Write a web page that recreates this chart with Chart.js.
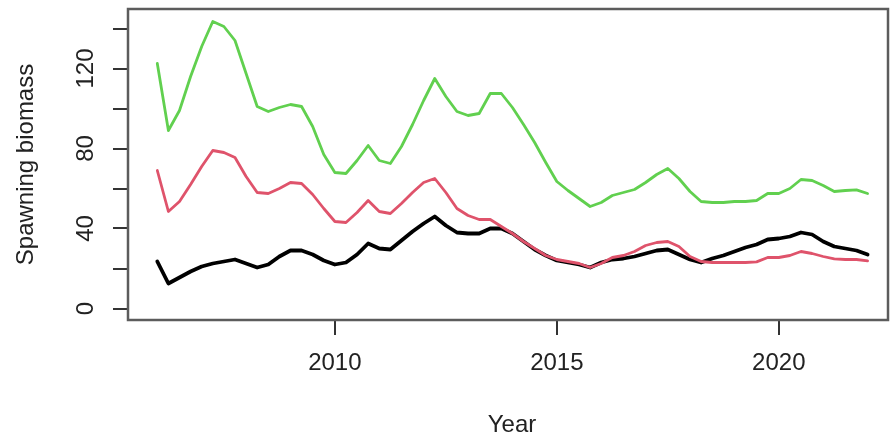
<!DOCTYPE html>
<html>
<head>
<meta charset="utf-8">
<script src="https://cdn.jsdelivr.net/npm/chart.js@4/dist/chart.umd.min.js"></script>
<style>
  html, body { margin: 0; padding: 0; background: #ffffff; }
  #wrap { width: 891px; height: 440px; }
</style>
</head>
<body>
<div id="wrap"><canvas id="chart" width="891" height="440"></canvas></div>
<script>
// Quarterly time steps (years)
const years = [
  2006, 2006.25, 2006.5, 2006.75, 2007, 2007.25, 2007.5, 2007.75,
  2008, 2008.25, 2008.5, 2008.75, 2009, 2009.25, 2009.5, 2009.75,
  2010, 2010.25, 2010.5, 2010.75, 2011, 2011.25, 2011.5, 2011.75,
  2012, 2012.25, 2012.5, 2012.75, 2013, 2013.25, 2013.5, 2013.75,
  2014, 2014.25, 2014.5, 2014.75, 2015, 2015.25, 2015.5, 2015.75,
  2016, 2016.25, 2016.5, 2016.75, 2017, 2017.25, 2017.5, 2017.75,
  2018, 2018.25, 2018.5, 2018.75, 2019, 2019.25, 2019.5, 2019.75,
  2020, 2020.25, 2020.5, 2020.75, 2021, 2021.25, 2021.5, 2021.75,
  2022
];

// Spawning biomass, central estimate (black)
const biomassBlack = [
  23.5, 12.5, 15.5, 18.5, 21, 22.5, 23.5, 24.5,
  22.5, 20.5, 22, 26, 29, 29, 27, 24,
  22, 23, 27, 32.5, 30, 29.5, 34, 38.5,
  42.5, 46, 41.5, 38, 37.5, 37.5, 40, 40,
  37.5, 33.5, 29.5, 26.5, 24, 23, 22, 20.5,
  23, 24.5, 25, 26, 27.5, 29, 29.5, 27,
  24.5, 23, 25, 26.5, 28.5, 30.5, 32, 34.5,
  35, 36, 38, 37, 33.5, 31, 30, 29,
  27
];

// Second series (red)
const biomassRed = [
  69, 48.5, 53.5, 62, 71, 79, 78, 75.5,
  66, 58, 57.5, 60, 63, 62.5, 57, 50,
  43.5, 43, 48, 54, 48.5, 47.5, 52.5, 58,
  63, 65, 58, 50, 46.5, 44.5, 44.5, 41,
  37.5, 33.5, 30, 26.5, 24.5, 23.5, 22.5, 20.5,
  22.5, 25.5, 26.5, 28.5, 31.5, 33, 33.5, 31,
  26, 23.5, 23, 23, 23, 23, 23.3, 25.5,
  25.5, 26.5, 28.5, 27.5, 26, 24.8, 24.5, 24.5,
  23.8
];

// Third series (green)
const biomassGreen = [
  122.5, 89, 99, 116, 131, 143.5, 141, 134,
  117.5, 101, 98.5, 100.5, 102, 101, 91, 77,
  68, 67.5, 74, 81.5, 74, 72.5, 81, 92,
  104, 115, 106, 98.5, 96.5, 97.5, 107.5, 107.5,
  100.5, 92, 83, 73, 63.5, 59, 55, 51,
  53, 56.5, 58, 59.5, 63, 67, 70, 65,
  58.5, 53.5, 53, 53, 53.5, 53.5, 54, 57.5,
  57.5, 60, 64.5, 64, 61.5, 58.5, 59, 59.3,
  57.5
];

// Axis ticks
const xTicks = [2010, 2015, 2020];
const yTicks = [0, 20, 40, 60, 80, 100, 120, 140];
const yLabelTicks = [0, 40, 80, 120];

const xTitle = 'Year';
const yTitle = 'Spawning biomass';

const FONT = '"Liberation Sans", Arial, Helvetica, sans-serif';
const TEXT_COLOR = '#222222';

function toPoints(values) {
  return years.map((yr, i) => ({ x: yr, y: values[i] }));
}

// Frame around the plotting region, rotated y labels and axis titles
const frameAndText = {
  id: 'frameAndText',
  afterDraw(chart) {
    const { ctx, chartArea } = chart;
    const yScale = chart.scales.y;
    ctx.save();
    ctx.strokeStyle = '#5c5c5c';
    ctx.lineWidth = 2.5;
    ctx.strokeRect(chartArea.left, chartArea.top,
                   chartArea.right - chartArea.left, chartArea.bottom - chartArea.top);

    ctx.fillStyle = TEXT_COLOR;
    ctx.font = '24px ' + FONT;
    ctx.textAlign = 'center';
    ctx.textBaseline = 'alphabetic';
    yLabelTicks.forEach(v => {
      const py = yScale.getPixelForValue(v);
      ctx.save();
      ctx.translate(93, py);
      ctx.rotate(-Math.PI / 2);
      ctx.fillText(String(v), 0, 0);
      ctx.restore();
    });

    ctx.save();
    ctx.translate(33, (chartArea.top + chartArea.bottom) / 2);
    ctx.rotate(-Math.PI / 2);
    ctx.fillText(yTitle, 0, 0);
    ctx.restore();

    ctx.fillText(xTitle, 512, 432);
    ctx.restore();
  }
};

new Chart(document.getElementById('chart'), {
  type: 'line',
  data: {
    datasets: [
      { label: 'green', data: toPoints(biomassGreen), borderColor: '#61D04F', borderWidth: 2.8, order: 0 },
      { label: 'red', data: toPoints(biomassRed), borderColor: '#DF536B', borderWidth: 2.8, order: 1 },
      { label: 'black', data: toPoints(biomassBlack), borderColor: '#000000', borderWidth: 3.8, order: 2 }
    ]
  },
  options: {
    responsive: false,
    devicePixelRatio: 1,
    animation: false,
    events: [],
    layout: { padding: { top: 9, right: 3, left: 0, bottom: 0 } },
    elements: {
      point: { radius: 0 },
      line: { tension: 0, fill: false, borderCapStyle: 'round', borderJoinStyle: 'round' }
    },
    plugins: {
      legend: { display: false },
      tooltip: { enabled: false },
      title: { display: false }
    },
    scales: {
      x: {
        type: 'linear',
        min: 2005.34,
        max: 2022.46,
        afterBuildTicks: scale => { scale.ticks = xTicks.map(v => ({ value: v })); },
        afterFit: scale => { scale.height = 120; },
        border: { display: false },
        grid: { drawOnChartArea: false, drawTicks: true, tickLength: 15, color: '#333333', lineWidth: 2 },
        ticks: {
          autoSkip: false,
          maxRotation: 0,
          minRotation: 0,
          padding: 14,
          color: TEXT_COLOR,
          font: { family: FONT, size: 24 },
          callback: v => String(v)
        }
      },
      y: {
        type: 'linear',
        min: -5.75,
        max: 149.75,
        afterBuildTicks: scale => { scale.ticks = yTicks.map(v => ({ value: v })); },
        afterFit: scale => { scale.width = 128; },
        border: { display: false },
        grid: { drawOnChartArea: false, drawTicks: true, tickLength: 15, color: '#333333', lineWidth: 2 },
        ticks: { display: false }
      }
    }
  },
  plugins: [frameAndText]
});
</script>
</body>
</html>
